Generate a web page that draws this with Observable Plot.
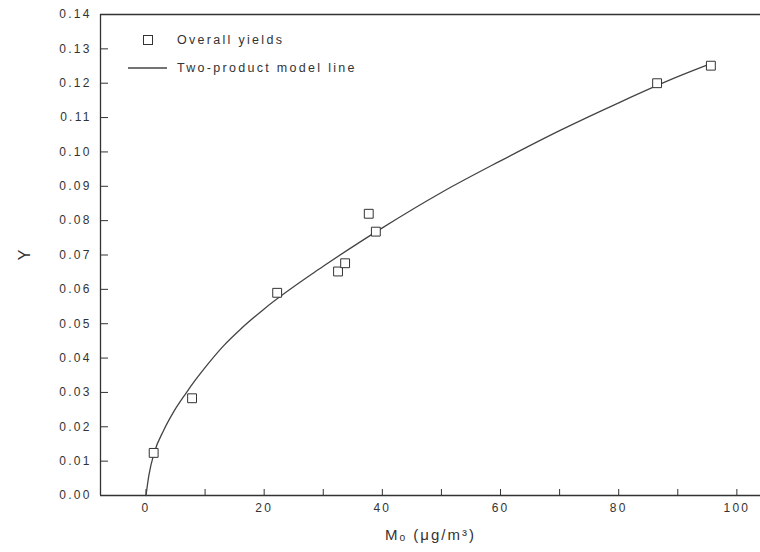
<!DOCTYPE html>
<html>
<head>
<meta charset="utf-8">
<script src="https://cdn.jsdelivr.net/npm/d3@7"></script>
<script src="https://cdn.jsdelivr.net/npm/@observablehq/plot@0.6"></script>
<style>
  html, body { margin: 0; padding: 0; background: #fff; }
  #wrap { position: relative; width: 760px; height: 552px; font-family: "Liberation Sans", Arial, sans-serif; }
  #legend { position: absolute; left: 0; top: 0; pointer-events: none; }
</style>
</head>
<body>
<div id="wrap"></div>
<script>
// Observed overall yields
const obsX = [1.3, 7.8, 22.2, 32.5, 33.7, 37.7, 38.9, 86.5, 95.6];
const obsY = [0.0124, 0.0283, 0.0590, 0.0652, 0.0676, 0.0820, 0.0768, 0.1200, 0.1251];
// Two-product model line
const lineX = [0, 0.5, 1.4, 3, 4.7, 6.7, 8.4, 10.4, 13.2, 16, 20, 30, 40, 50, 60, 70, 80, 90, 95.6];
const lineY = [0, 0.0060, 0.0125, 0.0190, 0.0244, 0.0296, 0.0337, 0.0381, 0.0437, 0.0484, 0.0543, 0.0667, 0.0779, 0.0882, 0.0974, 0.1062, 0.1143, 0.1219, 0.1257];
// Ticks
const xTickLabels = [0, 20, 40, 60, 80, 100];
const xTickMarks = [0, 10, 20, 30, 40, 50, 60, 70, 80, 90, 100];
const yTicks = [0, 0.01, 0.02, 0.03, 0.04, 0.05, 0.06, 0.07, 0.08, 0.09, 0.10, 0.11, 0.12, 0.13, 0.14];
const legendLabels = ["Overall yields", "Two-product model line"];

const obs = obsX.map((x, i) => ({x, y: obsY[i]}));
const line = lineX.map((x, i) => ({x, y: lineY[i]}));

const W = 760, H = 552, mL = 100, mR = 0, mT = 14, mB = 57;
const frameW = W - mL - mR, frameH = H - mT - mB;
const ink = "#333";

const chart = Plot.plot({
  width: W, height: H,
  marginLeft: mL, marginRight: mR, marginTop: mT, marginBottom: mB,
  style: {fontFamily: "'Liberation Sans', Arial, sans-serif", fontSize: "12px", color: ink, background: "#fff"},
  x: {domain: [-7.7, 104]},
  y: {domain: [0, 0.14]},
  marks: [
    Plot.ruleY([0.14], {stroke: ink, strokeWidth: 1.3}),
    Plot.ruleY([0], {stroke: ink, strokeWidth: 1.3}),
    Plot.ruleX([-7.7], {stroke: ink, strokeWidth: 1.3}),
    Plot.tickY(yTicks, {y: d => d, stroke: ink, insetRight: frameW - 8}),
    Plot.tickX(xTickMarks, {x: d => d, stroke: ink, insetTop: frameH - 6}),
    Plot.axisY({ticks: yTicks, tickSize: 0, tickPadding: 9, tickFormat: d3.format(".2f"),
      label: "Y", labelAnchor: "center", labelOffset: 82, labelArrow: "none"}),
    Plot.axisX({ticks: xTickLabels, tickSize: 0, tickPadding: 8,
      label: "Mₒ (μg/m³)", labelAnchor: "center", labelOffset: 44, labelArrow: "none"}),
    Plot.line(line, {x: "x", y: "y", stroke: "#444", strokeWidth: 1.3, curve: "monotone-x"}),
    Plot.dot(obs, {x: "x", y: "y", symbol: "square", r: 5, fill: "#fff", stroke: ink, strokeWidth: 1})
  ]
});

const wrap = document.getElementById("wrap");
wrap.appendChild(chart);

// Style texts
const svg = d3.select(chart);
svg.selectAll("text").style("letter-spacing", "2.2px").attr("fill", ink);
svg.selectAll("g[aria-label='x-axis label'] text")
  .style("font-size", "15px").style("letter-spacing", "2px");
svg.selectAll("g[aria-label='y-axis label'] text")
  .style("font-size", "16px").style("letter-spacing", "0px");

// Legend inside the plot area
const leg = d3.select(wrap).append("svg")
  .attr("id", "legend").attr("width", W).attr("height", 100)
  .style("font-family", "'Liberation Sans', Arial, sans-serif");
leg.append("rect").attr("x", 143.5).attr("y", 35.5).attr("width", 9).attr("height", 9)
  .attr("fill", "#fff").attr("stroke", ink);
leg.append("line").attr("x1", 128).attr("x2", 167).attr("y1", 68).attr("y2", 68)
  .attr("stroke", "#444").attr("stroke-width", 1.3);
leg.selectAll("text.l").data(legendLabels).join("text")
  .attr("x", 177).attr("y", (d, i) => 40 + i * 28)
  .attr("dy", "0.35em").attr("fill", ink)
  .style("font-size", "12.5px").style("letter-spacing", "2.3px")
  .text(d => d);
</script>
</body>
</html>
